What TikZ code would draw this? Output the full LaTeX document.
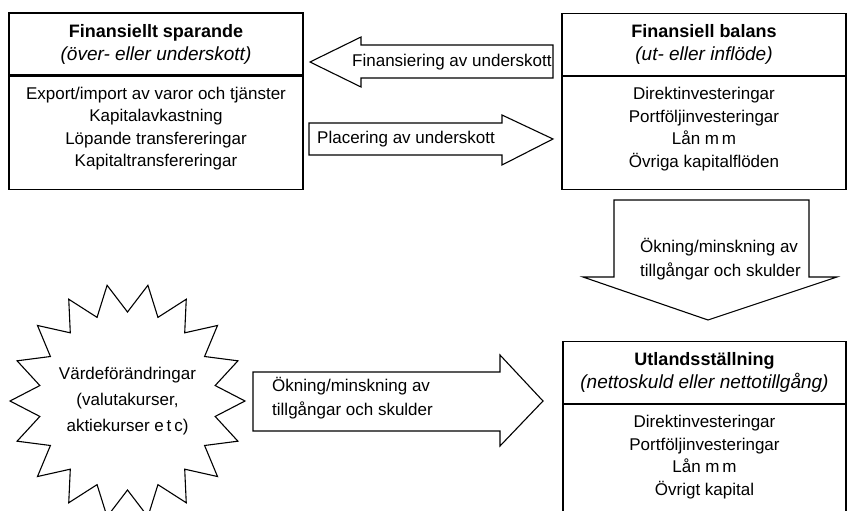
\documentclass[tikz,border=0pt]{standalone}
\usepackage{fontspec}
\setmainfont{Liberation Sans}
\usetikzlibrary{positioning,calc}

\newcommand{\rubrik}[2]{{\fontsize{18}{23}\selectfont\bfseries #1}\\{\fontsize{19}{23}\selectfont\itshape #2}}

\tikzset{
  ram/.style={draw, line width=1.1pt, inner sep=0pt, align=center},
  huvud/.style={ram, minimum height=62, font=\fontsize{18}{23}\selectfont},
  lista/.style={ram, minimum height=113, text depth=12pt, font=\fontsize{17}{22.5}\selectfont},
  pil/.style={draw, line width=1.1pt, line join=miter},
  piltext/.style={inner sep=0pt, align=left, font=\fontsize{17}{24}\selectfont},
}

\begin{document}
\begin{tikzpicture}[x=1pt, y=-1pt]
\path[use as bounding box, clip] (0,0) rectangle (847,511);

%% Finansiellt sparande
\node[huvud, minimum width=294] (spar) at (156,44) {\rubrik{Finansiellt sparande}{(över- eller underskott)}};
\node[lista, minimum width=294, below=0pt of spar] (spar-lista) {Export/import av varor och tjänster\\Kapitalavkastning\\Löpande transfereringar\\Kapitaltransfereringar};

%% Finansiell balans
\node[huvud, minimum width=284] (balans) at (704,44.5) {\rubrik{Finansiell balans}{(ut- eller inflöde)}};
\node[lista, minimum width=284, below=0pt of balans] (balans-lista) {Direktinvesteringar\\Portföljinvesteringar\\Lån m\,m\\Övriga kapitalflöden};

%% Utlandsställning
\node[huvud, minimum width=283] (utland) at (704.5,372.5) {\rubrik{Utlandsställning}{(nettoskuld eller nettotillgång)}};
\node[lista, minimum width=283, below=0pt of utland] (utland-lista) {Direktinvesteringar\\Portföljinvesteringar\\Lån m\,m\\Övrigt kapital};

%% Värdeförändringar (stjärna)
\node[inner sep=0pt, align=center, font=\fontsize{17}{26}\selectfont] (varde) at (127.5,401) {Värdeförändringar\\(valutakurser,\\aktiekurser e\,t\,c)};
\draw[pil] ($(varde)+(0:117.5)$)
  \foreach \v [evaluate=\v as \w using \v-10] in {20,40,...,360} {-- ($(varde)+(\w:89)$) -- ($(varde)+(\v:117.5)$)} -- cycle;

%% Pilar
\draw[pil] (310,62) -- ++(51,-25) -- ++(0,8) -- ++(192,0) -- ++(0,33) -- ++(-192,0) -- ++(0,9) -- cycle;
\node[piltext, anchor=west] (finans) at (352,62) {Finansiering av underskott};

\draw[pil] (309,123) -- ++(193,0) -- ++(0,-8) -- ++(51,24) -- ++(-51,26) -- ++(0,-10) -- ++(-193,0) -- cycle;
\node[piltext, anchor=west] (placering) at (317,139) {Placering av underskott};

\draw[pil] (614,200) -- ++(195,0) -- ++(0,77) -- ++(28,0) -- ++(-129,43) -- ++(-125,-43) -- ++(31,0) -- cycle;
\node[piltext, anchor=north west] (okning-ned) at (640,238) {Ökning/minskning av\\tillgångar och skulder};

\draw[pil] (253,372) -- ++(247,0) -- ++(0,-17) -- ++(43,46) -- ++(-43,45) -- ++(0,-15) -- ++(-247,0) -- cycle;
\node[piltext, anchor=west] (okning-hoger) at (272,398) {Ökning/minskning av\\tillgångar och skulder};

\end{tikzpicture}
\end{document}
